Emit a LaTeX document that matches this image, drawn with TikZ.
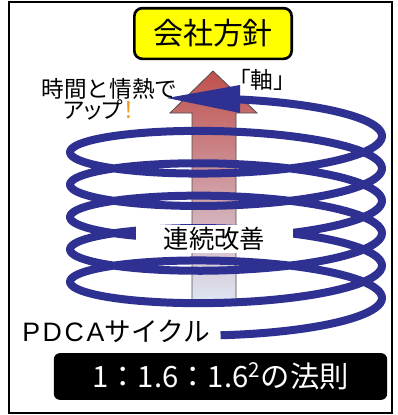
\documentclass[tikz,border=0pt]{standalone}
\usepackage{fontspec}
\setmainfont{Noto Sans CJK JP}
\newfontfamily\jpprop[RawFeature=+palt]{Noto Sans CJK JP}
\newfontfamily\latinwide[LetterSpace=10]{Liberation Sans}
\usepackage{tikz}
\definecolor{coilBlue}{RGB}{46,49,146}
\definecolor{axisRed}{RGB}{192,80,77}
\definecolor{axisMid}{RGB}{200,160,170}
\definecolor{axisPale}{RGB}{222,230,244}
\definecolor{policyYellow}{RGB}{255,255,0}
\definecolor{bangOrange}{RGB}{240,150,30}

\begin{document}
\begin{tikzpicture}[x=0.75pt,y=-0.75pt,
        coil/.style={draw=coilBlue, line width=6pt, line join=round},
        label/.style={inner sep=0pt, font=\fontsize{17pt}{20pt}\selectfont}]
        \useasboundingbox (0,0) rectangle (398,415);
        \draw[line width=1.5pt] (9,2) rectangle (392,413);

        \shade[top color=axisRed, middle color=axisMid, bottom color=axisPale, draw=black!70, line width=0.6pt]
            (192,302) -- (192,113) -- (170,113) -- (213,71) -- (257,113) -- (236,113) -- (236,302) -- cycle;

        \draw[coil] plot[domain=-92:1885, samples=500, variable=\t]
            ({226+156*cos(\t)}, {298-0.09*\t-29*sin(\t)});
        \fill[coilBlue] (240,85) -- (167,98) -- (240,113) -- cycle;

        \node[draw=black, line width=2pt, fill=policyYellow, rounded corners=6pt,
              minimum width=118pt, minimum height=38pt, font=\fontsize{22.5pt}{26pt}\selectfont]
              (policy) at (213,33.5) {会社方針};
        \node[fill=white, minimum width=118pt, minimum height=21pt, inner sep=0pt,
              font=\fontsize{19pt}{22pt}\selectfont] (kaizen) at (214.5,239) {連続改善};

        \node[label] (passion) at (109.5,89) {時間と情熱で};
        \node[label, anchor=west] (up) at (63,110) {\jpprop アップ\textcolor{bangOrange}{！}};
        \node[label] (axis) at (262,80) {「軸」};
        \node[anchor=west, inner sep=0pt, font=\fontsize{20pt}{24pt}\selectfont]
              (pdca) at (22,331) {{\latinwide PDCA}サイクル};

        \node[fill=black, rounded corners=4.5pt, minimum width=250pt, minimum height=35pt,
              text=white, font=\fontsize{22pt}{26pt}\selectfont]
              (law) at (220.5,376.5) {1：1.6：1.6\textsuperscript{2}の法則};
    \end{tikzpicture}
\end{document}
